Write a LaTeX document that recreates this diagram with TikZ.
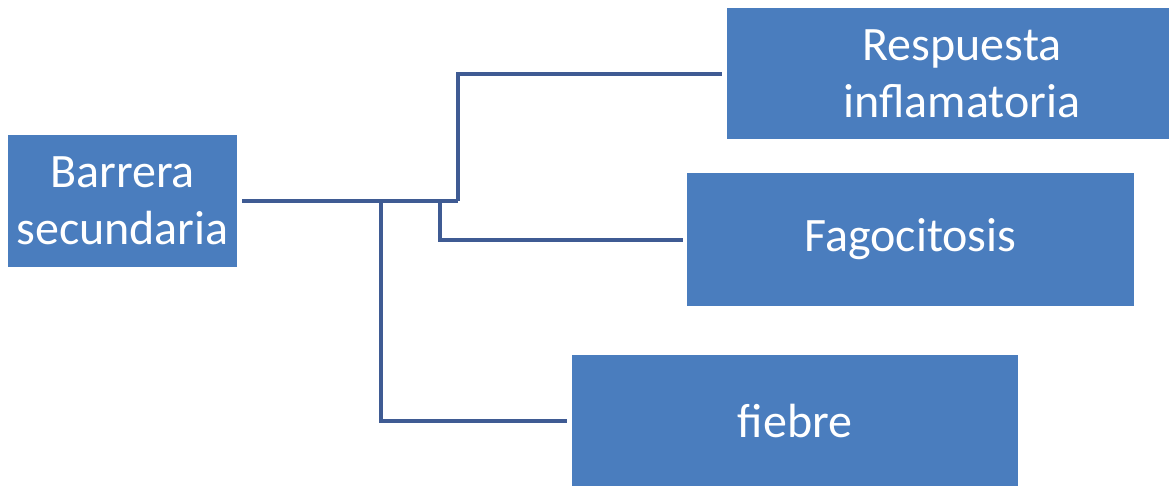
\documentclass[tikz,border=0pt]{standalone}
\usepackage{fontspec}
\setmainfont{Carlito}
\definecolor{boxblue}{HTML}{4A7DBE}
\definecolor{lineblue}{HTML}{3F5B93}
\begin{document}
\begin{tikzpicture}[x=1pt,y=-1pt,
  blockbox/.style={fill=boxblue,draw=none,inner sep=0pt,text=white,align=center,
    font=\fontsize{48}{57}\selectfont},
  conn/.style={draw=lineblue,line width=4pt,line join=miter}]
\useasboundingbox (0,0) rectangle (1169,485);
\clip (0,0) rectangle (1169,485);
\node[blockbox,minimum width=229pt,minimum height=132pt] (bar) at (122.5,201) {Barrera\\secundaria};
\node[blockbox,minimum width=470pt,minimum height=131pt] (resp) at (962,73.5) {Respuesta\\inflamatoria};
\node[blockbox,minimum width=447pt,minimum height=133pt] (fago) at (910.5,239.5) {Fagocitosis};
\node[blockbox,minimum width=446pt,minimum height=131pt] (fieb) at (795,420.5) {fiebre};
\coordinate (jr) at (458,201);
\coordinate (jf) at (440,201);
\coordinate (jb) at (381,201);
\draw[conn,shorten <=5pt] (bar.east) -- (jr);
\draw[conn,shorten >=5pt] (jr) |- (resp.west);
\draw[conn,shorten >=4pt] (jf) |- (fago.west);
\draw[conn,shorten >=5pt] (jb) |- (fieb.west);
\end{tikzpicture}
\end{document}
